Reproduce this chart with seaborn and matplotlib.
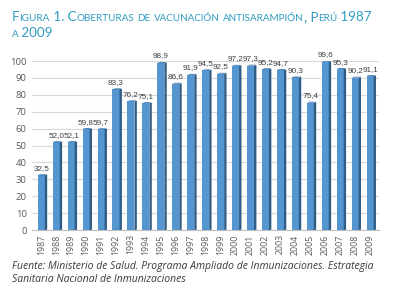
import numpy as np
import pandas as pd
import matplotlib
matplotlib.use("Agg")
import matplotlib.pyplot as plt
from matplotlib.patches import Polygon
import seaborn as sns

# datos
years = [str(y) for y in range(1987, 2010)]
coverage = [32.5, 52.0, 52.1, 59.8, 59.7, 83.3, 76.2, 75.1, 98.9, 86.6, 91.9, 94.5,
            92.5, 97.2, 97.3, 95.2, 94.7, 90.3, 75.4, 99.6, 95.3, 90.2, 91.1]
yticks = list(range(0, 101, 10))

df = pd.DataFrame({"anio": years, "cobertura": coverage})

sns.set_style("white")
plt.rcParams["font.family"] = ["Open Sans", "DejaVu Sans"]
lbl_font = ["Liberation Sans", "DejaVu Sans"]

fig = plt.figure(figsize=(3.94, 2.88), dpi=100)
ax = fig.add_axes([0.082, 0.201, 0.88, 0.587])

front = "#5596d0"
side = "#2f5d86"
sns.barplot(data=df, x="anio", y="cobertura", color=front, width=0.47,
            saturation=1, edgecolor="none", ax=ax, zorder=3)

# cara lateral "3D" de cada barra
dx, dy = 0.16, 0.9
for p in ax.patches:
    x0 = p.get_x() + p.get_width()
    h = p.get_height()
    ax.add_patch(Polygon([(x0, 0), (x0 + dx, dy * 0.3), (x0 + dx, h + dy * 0.3),
                          (x0, h)], closed=True, color=side, zorder=3, lw=0))
    ax.add_patch(Polygon([(p.get_x(), h), (p.get_x() + dx, h + dy * 0.6),
                          (x0 + dx, h + dy * 0.6), (x0, h)], closed=True,
                         color="#3f78ab", zorder=3, lw=0))

for i, v in enumerate(coverage):
    ax.text(i, v + 2.0, f"{v:.1f}".replace(".", ","), ha="center", va="bottom",
            fontsize=5.9, color="#404040", clip_on=False, zorder=4, family=lbl_font)

ax.set_ylim(0, 100)
ax.set_xlim(-0.6, 22.6)
ax.set_yticks(yticks)
ax.yaxis.grid(True, color="#d9d9d9", lw=0.8, zorder=0)
ax.set_axisbelow(True)
for s in ["top", "right", "left"]:
    ax.spines[s].set_visible(False)
ax.spines["bottom"].set_color("#bfbfbf")
ax.spines["bottom"].set_linewidth(0.8)
ax.set_xlabel("")
ax.set_ylabel("")
ax.tick_params(axis="y", labelsize=6.8, colors="#595959", length=3, width=0.6,
               pad=1, color="#bfbfbf")
ax.tick_params(axis="x", labelsize=6.3, colors="#595959", length=0, pad=3)
plt.setp(ax.get_xticklabels(), rotation=90)

# titulo en versalitas
title_col = "#2f9cc1"
renderer = fig.canvas.get_renderer()


def small_caps(x, y, text, big=9.6, small=7.1):
    xpix, ypix = fig.transFigure.transform((x, y))
    runs = []
    for ch in text:
        is_small = ch.islower()
        if runs and runs[-1][1] == is_small:
            runs[-1][0] += ch
        else:
            runs.append([ch, is_small])
    for chunk, is_small in runs:
        t = fig.text(xpix, ypix, chunk.upper(), transform=None,
                     fontsize=small if is_small else big, color=title_col,
                     ha="left", va="baseline", family=["Lato", "DejaVu Sans"])
        bb = t.get_window_extent(renderer)
        xpix = bb.x1


small_caps(0.030, 0.927, "Figura 1. Coberturas de vacunación antisarampión, Perú 1987")
small_caps(0.030, 0.870, "a 2009")

fig.text(0.030, 0.012, "Fuente: Ministerio de Salud. Programa Ampliado de Inmunizaciones. Estrategia\n"
         "Sanitaria Nacional de Inmunizaciones", fontsize=7.5, style="italic",
         color="#3a3a3a", ha="left", va="bottom", linespacing=1.25,
         family=["Open Sans", "DejaVu Sans"])

fig.savefig("out.png", dpi=100)
